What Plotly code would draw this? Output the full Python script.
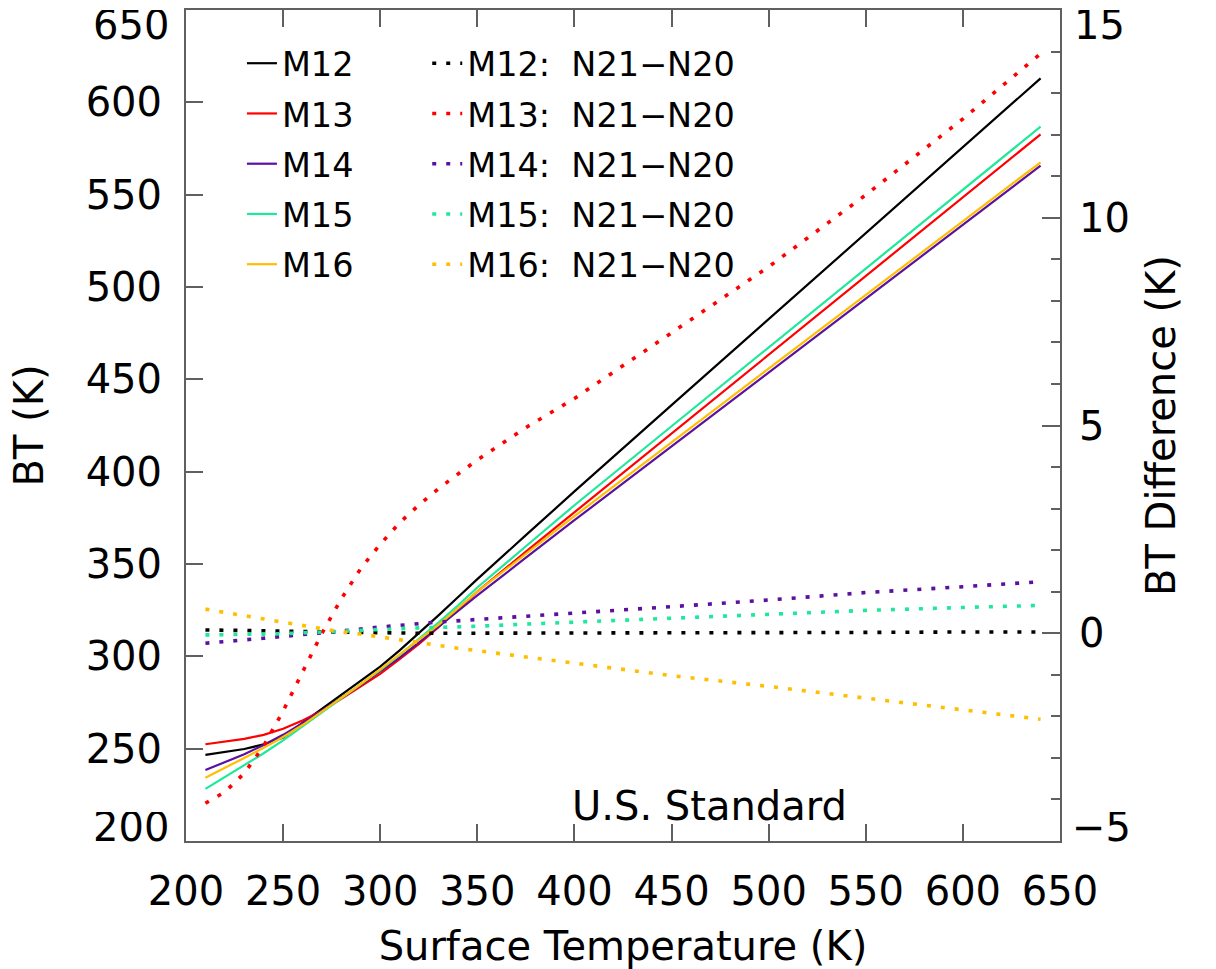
import plotly.graph_objects as go

# Surface temperature grid (K)
surface_t = [210, 220, 230, 240, 250, 260, 270, 280, 290, 300, 310, 320, 330, 340, 350,
             375, 400, 450, 500, 550, 600, 640]

# Brightness temperatures (K), left axis
bt_m12 = [246.6, 248.0, 249.8, 252.3, 256.0, 264.0, 271.6, 279.1, 286.7, 294.4, 303.2, 312.5,
          322.2, 332.0, 341.8, 365.6, 389.3, 436.0, 482.6, 529.2, 575.8, 613.0]
bt_m13 = [252.4, 253.7, 255.3, 257.5, 260.8, 265.3, 270.5, 277.0, 283.6, 290.5, 298.5, 306.8,
          315.8, 325.3, 335.0, 356.7, 378.0, 421.0, 463.5, 506.0, 548.5, 582.7]
bt_m14 = [238.4, 242.5, 247.0, 252.0, 257.5, 263.8, 270.5, 277.5, 284.5, 291.7, 299.3, 307.5,
          316.0, 324.5, 333.0, 353.4, 373.7, 413.7, 453.7, 493.7, 533.7, 565.7]
bt_m15 = [228.2, 234.5, 241.0, 247.5, 254.5, 262.0, 269.5, 277.2, 285.0, 292.6, 300.8, 309.5,
          318.3, 327.5, 337.3, 359.6, 381.8, 424.6, 467.4, 510.2, 553.0, 586.8]
bt_m16 = [234.3, 239.5, 245.0, 250.5, 256.3, 262.8, 270.0, 277.5, 285.0, 293.0, 300.5, 308.5,
          317.0, 326.0, 335.0, 355.5, 375.9, 415.9, 455.9, 495.9, 535.9, 567.5]

# BT differences N21 - N20 (K), right axis
d_m12 = [0.08, 0.08, 0.07, 0.06, 0.05, 0.04, 0.03, 0.02, 0.01, 0.01, 0.0, 0.0, 0.0, 0.0, 0.0,
         0.0, 0.01, 0.01, 0.02, 0.02, 0.03, 0.03]
d_m13 = [-4.09, -3.82, -3.37, -2.71, -1.87, -0.93, 0.0, 0.83, 1.56, 2.14, 2.66, 3.09, 3.48,
         3.83, 4.17, 4.95, 5.65, 7.23, 8.82, 10.55, 12.38, 13.95]
d_m14 = [-0.24, -0.21, -0.16, -0.12, -0.08, -0.03, 0.02, 0.06, 0.10, 0.15, 0.18, 0.23, 0.27,
         0.30, 0.33, 0.40, 0.47, 0.64, 0.80, 0.98, 1.12, 1.24]
d_m15 = [-0.04, -0.04, -0.03, -0.02, -0.01, 0.01, 0.03, 0.06, 0.09, 0.10, 0.12, 0.13, 0.14,
         0.15, 0.17, 0.22, 0.27, 0.36, 0.46, 0.55, 0.62, 0.67]
d_m16 = [0.58, 0.50, 0.42, 0.34, 0.26, 0.17, 0.10, 0.03, -0.02, -0.09, -0.16, -0.24, -0.30,
         -0.36, -0.42, -0.57, -0.71, -1.02, -1.28, -1.56, -1.85, -2.07]

bands = ["M12", "M13", "M14", "M15", "M16"]
colors = ["#000000", "#FF0000", "#5A10A0", "#1EE89A", "#FFBF00"]
bt_series = [bt_m12, bt_m13, bt_m14, bt_m15, bt_m16]
d_series = [d_m12, d_m13, d_m14, d_m15, d_m16]

x_ticks = [200, 250, 300, 350, 400, 450, 500, 550, 600, 650]
y_ticks = [200, 250, 300, 350, 400, 450, 500, 550, 600, 650]
y2_ticks = [-5, 0, 5, 10, 15]

FONT = "DejaVu Sans"
AXC = "#606060"
TXT = dict(family=FONT, size=40, color="black")

fig = go.Figure()
for name, col, ys in zip(bands, colors, bt_series):
    fig.add_trace(go.Scatter(x=surface_t, y=ys, mode="lines", name=name,
                             line=dict(color=col, width=2.2),
                             legend="legend", legendgroup=name + "s"))
for name, col, ys in zip(bands, colors, d_series):
    fig.add_trace(go.Scatter(x=surface_t, y=ys, mode="lines", yaxis="y2",
                             name=name + ":\u00a0 N21\u2212N20",
                             line=dict(color=col, width=3.6, dash="4px,10px"),
                             legend="legend2", legendgroup=name + "d"))

ytext = [str(v) for v in y_ticks]
ytext[0] = ""
ytext[-1] = ""
y2text = ["\u2212" + str(-v) if v < 0 else str(v) for v in y2_ticks]
y2text[0] = ""
y2text[-1] = ""

annos = [
    dict(xref="paper", x=0, xanchor="right", xshift=-15, yref="y", y=y_ticks[0],
         yanchor="middle", yshift=14, height=30, text=str(y_ticks[0]), showarrow=False,
         font=TXT),
    dict(xref="paper", x=0, xanchor="right", xshift=-15, yref="y", y=y_ticks[-1],
         yanchor="middle", yshift=-15, height=30, text=str(y_ticks[-1]), showarrow=False,
         font=TXT),
    dict(xref="paper", x=1, xanchor="left", xshift=10, yref="y2", y=y2_ticks[0],
         yanchor="middle", yshift=14, height=30, text="\u2212" + str(-y2_ticks[0]),
         showarrow=False, font=TXT),
    dict(xref="paper", x=1, xanchor="left", xshift=12, yref="y2", y=y2_ticks[-1],
         yanchor="middle", yshift=-15, height=30, text=str(y2_ticks[-1]),
         showarrow=False, font=TXT),
    dict(xref="x", x=397.5, xanchor="left", yref="y", y=219, yanchor="middle",
         text="U.S. Standard", showarrow=False, font=TXT),
]

fig.update_layout(
    width=1216, height=969,
    margin=dict(l=186, r=156, t=10, b=128, autoexpand=False),
    paper_bgcolor="white", plot_bgcolor="white",
    font=TXT,
    xaxis=dict(range=[200, 650], tickvals=x_ticks, ticks="inside", ticklen=17,
               tickwidth=2, tickcolor=AXC, showline=True, linecolor=AXC, linewidth=2,
               mirror="ticks", showgrid=False, zeroline=False, ticklabelstandoff=14,
               tickfont=TXT,
               title=dict(text="Surface Temperature (K)", standoff=22, font=TXT)),
    yaxis=dict(range=[200, 650], tickvals=y_ticks, ticktext=ytext, ticks="inside",
               ticklen=17, tickwidth=2, tickcolor=AXC, showline=True, linecolor=AXC,
               linewidth=2, showgrid=False, zeroline=False, ticklabelstandoff=14,
               tickfont=TXT,
               title=dict(text="BT (K)", standoff=30, font=TXT)),
    yaxis2=dict(range=[-5, 15], overlaying="y", side="right", tickvals=y2_ticks,
                ticktext=y2text, ticks="inside", ticklen=18, tickwidth=2, tickcolor=AXC,
                showline=True, linecolor=AXC, linewidth=2, showgrid=False, zeroline=False,
                ticklabelstandoff=9,
                minor=dict(dtick=1, ticks="inside", ticklen=9, tickwidth=2, tickcolor=AXC,
                           showgrid=False),
                tickfont=TXT,
                title=dict(text="BT Difference (K)", standoff=18, font=TXT)),
    legend=dict(x=0.064, xanchor="left", y=0.970, yanchor="top",
                bgcolor="rgba(0,0,0,0)", tracegroupgap=3.7,
                font=dict(family=FONT, size=33.5, color="black")),
    legend2=dict(x=0.276, xanchor="left", y=0.970, yanchor="top",
                 bgcolor="rgba(0,0,0,0)", tracegroupgap=3.7,
                 font=dict(family=FONT, size=33.5, color="black")),
    annotations=annos,
)

# remove the default 8px page margin so the figure fills the window exactly
fig.write_html("out.html", config={"displayModeBar": False},
               post_script="document.body.style.margin='0px';")
